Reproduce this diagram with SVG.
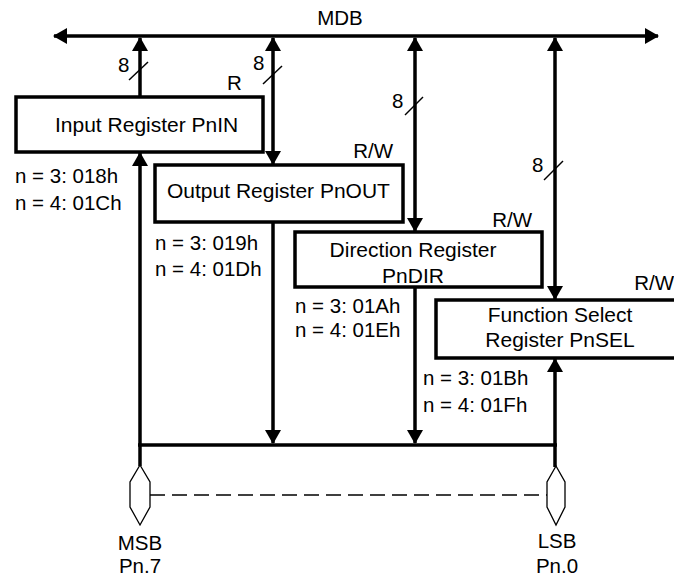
<svg xmlns="http://www.w3.org/2000/svg" width="674" height="578" viewBox="0 0 674 578">
<defs>
<style>
text{font-family:"Liberation Sans",Arial,sans-serif;font-size:20.5px;fill:#000}
.lbl{font-size:21px}
.box{fill:#fff;stroke:#000;stroke-width:3.5}
.bus{fill:none;stroke:#000;stroke-width:3.5}
.thin{fill:#fff;stroke:#000;stroke-width:1.3}
.dash{fill:none;stroke:#000;stroke-width:1.3;stroke-dasharray:15 7}
.slash{fill:none;stroke:#000;stroke-width:1.5}
.mid{text-anchor:middle}
.end{text-anchor:end}
</style>
<marker id="ah" markerUnits="userSpaceOnUse" markerWidth="14" markerHeight="16" refX="13" refY="8" orient="auto-start-reverse">
<path d="M0,0 L14,8 L0,16 z" fill="#000"/>
</marker>
</defs>
<rect width="674" height="578" fill="#fff"/>
<g id="connectors">
<line class="bus" x1="54" y1="36" x2="658" y2="36" marker-start="url(#ah)" marker-end="url(#ah)"/>
<line class="bus" x1="140" y1="97" x2="140" y2="38" marker-end="url(#ah)"/>
<line class="bus" x1="273" y1="38" x2="273" y2="164" marker-start="url(#ah)" marker-end="url(#ah)"/>
<line class="bus" x1="415" y1="38" x2="415" y2="231" marker-start="url(#ah)" marker-end="url(#ah)"/>
<line class="bus" x1="555" y1="38" x2="555" y2="299" marker-start="url(#ah)" marker-end="url(#ah)"/>
<line class="bus" x1="140" y1="466" x2="140" y2="153" marker-end="url(#ah)"/>
<line class="bus" x1="273" y1="222" x2="273" y2="443" marker-end="url(#ah)"/>
<line class="bus" x1="415" y1="287" x2="415" y2="443" marker-end="url(#ah)"/>
<line class="bus" x1="555" y1="467" x2="555" y2="359" marker-end="url(#ah)"/>
<line class="bus" x1="138" y1="445" x2="557" y2="445"/>
<line class="dash" x1="150" y1="495" x2="547" y2="495"/>
<line class="slash" x1="129" y1="80" x2="148" y2="62"/>
<line class="slash" x1="263" y1="84" x2="282" y2="66"/>
<line class="slash" x1="405" y1="115" x2="423" y2="97"/>
<line class="slash" x1="544" y1="180" x2="563" y2="161"/>
</g>
<g id="mdb"><text class="mid" x="340" y="25">MDB</text></g>
<g id="width-labels">
<text x="118" y="72">8</text>
<text x="253" y="70">8</text>
<text x="392" y="108">8</text>
<text x="532" y="172">8</text>
</g>
<g id="input-register">
<rect class="box" x="16" y="97" width="247" height="55"/>
<text class="lbl" x="55" y="132">Input Register PnIN</text>
<text x="227" y="90">R</text>
<text x="15" y="183">n = 3: 018h</text>
<text x="15" y="210">n = 4: 01Ch</text>
</g>
<g id="output-register">
<rect class="box" x="155" y="165" width="248" height="57"/>
<text class="lbl" x="167" y="198">Output Register PnOUT</text>
<text class="end" x="393" y="158">R/W</text>
<text x="155" y="250">n = 3: 019h</text>
<text x="155" y="276">n = 4: 01Dh</text>
</g>
<g id="direction-register">
<rect class="box" x="295" y="232" width="247" height="55"/>
<text class="mid lbl" x="413" y="257">Direction Register</text>
<text class="mid lbl" x="413" y="283">PnDIR</text>
<text class="end" x="532" y="227">R/W</text>
<text x="295" y="313">n = 3: 01Ah</text>
<text x="295" y="337">n = 4: 01Eh</text>
</g>
<g id="function-select-register">
<path class="box" d="M676,300 H436 V358 H676"/>
<text class="mid lbl" x="560" y="322">Function Select</text>
<text class="mid lbl" x="560" y="347">Register PnSEL</text>
<text class="end" x="674" y="290">R/W</text>
<text x="423" y="385">n = 3: 01Bh</text>
<text x="423" y="412">n = 4: 01Fh</text>
</g>
<g id="pin-msb">
<path class="thin" d="M140,465 L150,482 L150,507 L140,525 L130,507 L130,482 Z"/>
<text class="mid" x="140" y="550">MSB</text>
<text class="mid" x="140" y="573">Pn.7</text>
</g>
<g id="pin-lsb">
<path class="thin" d="M556,466 L565,482 L565,507 L556,525 L547,507 L547,482 Z"/>
<text class="mid" x="557" y="548">LSB</text>
<text class="mid" x="557" y="573">Pn.0</text>
</g>
</svg>
